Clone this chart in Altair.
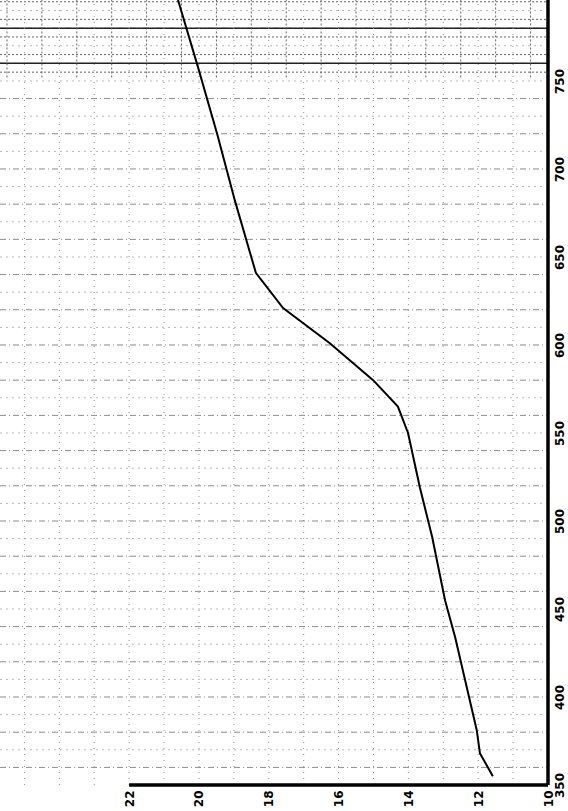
import altair as alt
import pandas as pd

# ---- data ----
wavelength = [355, 368, 381, 434, 455, 491, 519, 550, 565, 580, 601, 621, 641, 682, 720, 758, 796]
value = [11.58, 11.95, 12.04, 12.66, 12.95, 13.32, 13.67, 14.01, 14.30, 15.01, 16.25, 17.59,
         18.37, 18.97, 19.48, 20.03, 20.60]

value_ticks = [10, 12, 14, 16, 18, 20, 22]
wl_ticks = [350, 400, 450, 500, 550, 600, 650, 700, 750]

# graph-paper lines
h_major = list(range(360, 800, 20))
h_minor = list(range(370, 800, 20))
h_top_extra = [755, 765, 775, 785, 795]
h_bold = [760, 780]
v_lines = list(range(11, 26))
v_top_extra = [x + 0.5 for x in range(10, 26)]

XDOM = [10, 25.7]
YDOM = [350, 796]
xs = alt.Scale(domain=XDOM, reverse=True, nice=False, zero=False)
ys = alt.Scale(domain=YDOM, nice=False, zero=False)

lab = dict(labelFont="DejaVu Sans", labelFontWeight="bold", labelFontSize=12, labelColor="black",
           title=None, grid=False, ticks=False, domain=False, labelAngle=270,
           labelFlush=False, labelOverlap=False)
AX_X = alt.Axis(orient="bottom", values=value_ticks, labelAlign="right",
                labelBaseline="middle", labelPadding=5, **lab)
AX_Y = alt.Axis(orient="right", values=wl_ticks, labelAlign="center",
                labelBaseline="middle", labelPadding=11, **lab)

line_df = pd.DataFrame({"wl": wavelength, "v": value})

def hrules(vals, color, dash, width=1, opacity=1.0):
    df = pd.DataFrame({"wl": vals, "x0": [XDOM[1]] * len(vals), "x1": [XDOM[0]] * len(vals)})
    return alt.Chart(df).mark_rule(
        color=color, strokeDash=dash, strokeWidth=width, opacity=opacity
    ).encode(y=alt.Y("wl:Q", scale=ys, axis=AX_Y),
             x=alt.X("x0:Q", scale=xs, axis=AX_X), x2="x1:Q")

def vrules(vals, color, dash, width=1, opacity=1.0, y0=None):
    df = pd.DataFrame({"v": vals, "y0": [y0 if y0 is not None else YDOM[0]] * len(vals),
                       "y1": [YDOM[1]] * len(vals)})
    return alt.Chart(df).mark_rule(color=color, strokeDash=dash, strokeWidth=width, opacity=opacity).encode(
        x=alt.X("v:Q", scale=xs, axis=AX_X),
        y=alt.Y("y0:Q", scale=ys, axis=AX_Y),
        y2="y1:Q",
    )

grid_minor = hrules(h_minor, "#a8a8a8", [2, 4], 1, 0.8)
grid_major = hrules(h_major, "#666666", [6, 3, 1, 3], 1, 0.75)
grid_top = hrules(h_top_extra, "#555555", [2, 2], 1, 0.9)
grid_bold = hrules(h_bold, "#222222", [1, 0], 1.5, 1.0)
grid_v = vrules(v_lines, "#8a8a8a", [1, 5], 1, 0.9)
grid_v_top = vrules(v_top_extra, "#555555", [2, 2], 1, 0.9, y0=752)

axes_df = pd.DataFrame({"x0": [10, 22], "x1": [10, 10], "y0": [350, 350], "y1": [796, 350]})
axis_lines = alt.Chart(axes_df).mark_rule(color="black", strokeWidth=3.5).encode(
    x=alt.X("x0:Q", scale=xs, axis=AX_X),
    x2="x1:Q",
    y=alt.Y("y0:Q", scale=ys, axis=AX_Y),
    y2="y1:Q",
)

curve = alt.Chart(line_df).mark_line(color="black", strokeWidth=2, clip=True).encode(
    x=alt.X("v:Q", scale=xs, axis=AX_X),
    y=alt.Y("wl:Q", scale=ys, axis=AX_Y),
    order=alt.Order("wl:Q"),
)

chart = alt.layer(
    grid_minor, grid_major, grid_top, grid_bold, grid_v, grid_v_top, axis_lines, curve
).properties(
    width=548,
    height=785,
    padding={"left": 0, "top": 0, "right": 20, "bottom": 26},
    autosize=alt.AutoSizeParams(type="none"),
    background="white",
).configure_view(stroke=None)

chart.save("out.html", embed_options={"renderer": "svg", "actions": False})
